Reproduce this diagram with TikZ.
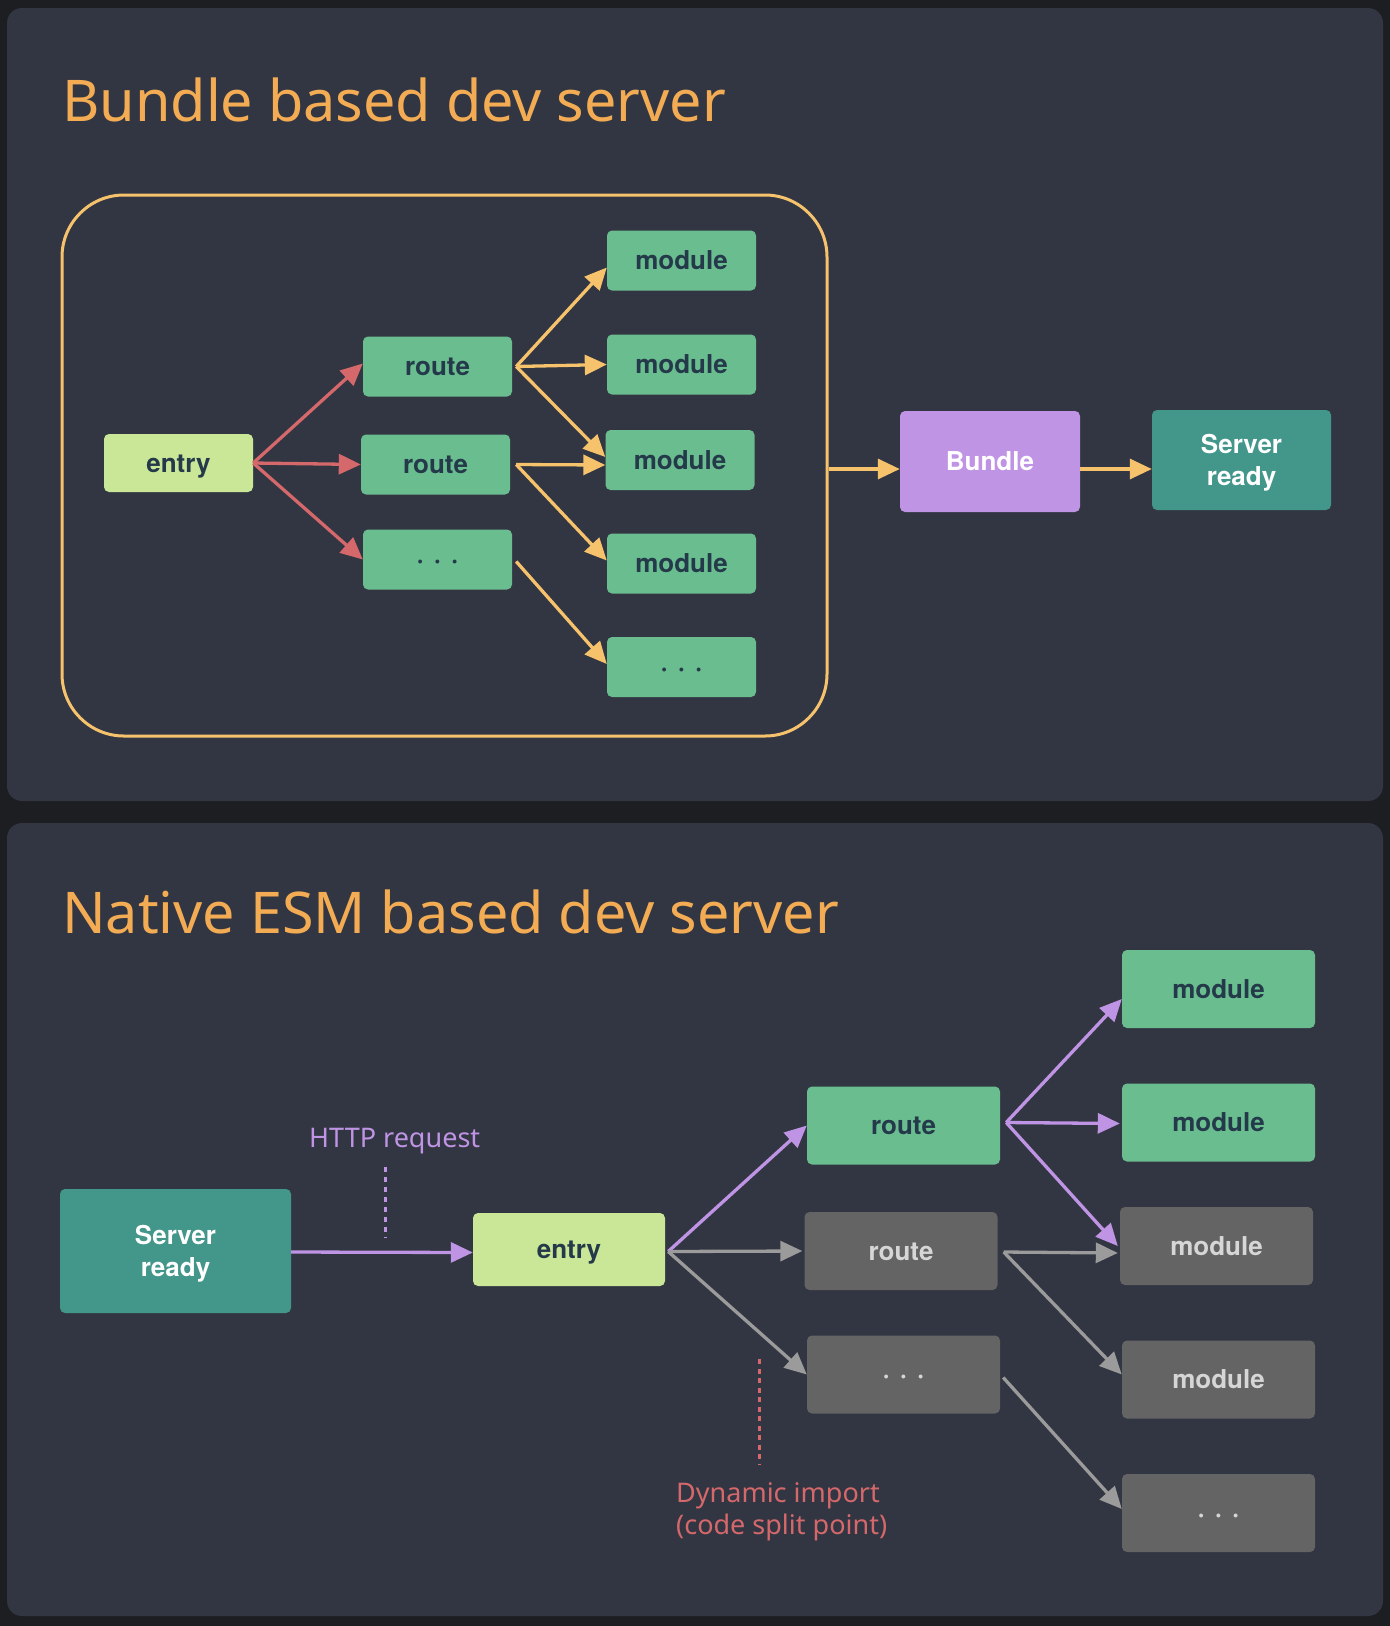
\documentclass[tikz,border=0pt]{standalone}
\usepackage{fontspec}
\setmainfont{Noto Sans}
\newfontfamily\boxfont{TeX Gyre Heros}
\usetikzlibrary{arrows.meta}

\definecolor{pagebg}{HTML}{1D1E21}
\definecolor{panelbg}{HTML}{323642}
\definecolor{titlecol}{HTML}{F3AC53}
\definecolor{outlinecol}{HTML}{F6C36C}
\definecolor{redcol}{HTML}{D4686B}
\definecolor{purplecol}{HTML}{BF94E4}
\definecolor{greencol}{HTML}{6ABD8F}
\definecolor{limecol}{HTML}{CAE797}
\definecolor{tealcol}{HTML}{42968A}
\definecolor{greycol}{HTML}{646464}
\definecolor{greytext}{HTML}{D6D6D6}
\definecolor{greyline}{HTML}{9B9B9B}
\definecolor{darktext}{HTML}{24394A}

\tikzset{
  box/.style={rectangle, rounded corners=5pt, inner sep=0pt, align=center,
    text height=18pt, text depth=0pt,
    font=\boxfont\fontsize{26}{32}\selectfont\bfseries},
  twolines/.style={text height=50pt},
  gbox/.style={box, fill=greencol, text=darktext},
  lbox/.style={box, fill=limecol, text=darktext},
  pbox/.style={box, fill=purplecol, text=white},
  tbox/.style={box, fill=tealcol, text=white},
  xbox/.style={box, fill=greycol, text=greytext},
  small/.style={minimum width=149pt, minimum height=60pt},
  wide/.style={minimum width=193pt, minimum height=78pt},
  link/.style={line width=3.3pt, -{Triangle[length=22pt,width=20pt]}},
  redlink/.style={link, draw=redcol, fill=redcol},
  orlink/.style={link, draw=outlinecol, fill=outlinecol},
  purlink/.style={link, draw=purplecol, fill=purplecol},
  greylink/.style={link, draw=greyline, fill=greyline},
  heading/.style={anchor=base west, inner sep=0pt, text=titlecol,
    font=\fontsize{57.5}{68}\selectfont},
  note/.style={anchor=base west, inner sep=0pt, align=left,
    font=\fontsize{27}{31.5}\selectfont},
}
\newcommand{\threedots}{·\kern10pt·\kern10pt·}

\begin{document}
\begin{tikzpicture}[x=1pt,y=-1pt]
  \useasboundingbox (0,0) rectangle (1390,1626);
  \fill[pagebg] (0,0) rectangle (1390,1626);
  \fill[panelbg, rounded corners=15pt] (7,8) rectangle (1383,801);
  \fill[panelbg, rounded corners=15pt] (7,823) rectangle (1383,1616);

  % ---------- bundle based dev server ----------
  \node[heading] (t1) at (62,121) {Bundle based dev server};

  \node[draw=outlinecol, line width=3pt, rounded corners=62pt,
        minimum width=765pt, minimum height=541pt] (area) at (444.5,465.5) {};

  \node[lbox, small, minimum height=58pt] (e1) at (178.5,463) {entry};
  \node[gbox, small] (r1) at (437.5,366.5) {route};
  \node[gbox, small] (r2) at (435.5,464.5) {route};
  \node[gbox, small] (r3) at (437.5,559.5) {\threedots};
  \node[gbox, small] (m1) at (681.5,260.5) {module};
  \node[gbox, small] (m2) at (681.5,364.5) {module};
  \node[gbox, small] (m3) at (680,460) {module};
  \node[gbox, small] (m4) at (681.5,563.5) {module};
  \node[gbox, small] (m5) at (681.5,667) {\threedots};
  \node[pbox, minimum width=180pt, minimum height=101pt] (bdl) at (990,461.5) {Bundle};
  \node[tbox, twolines, minimum width=179pt, minimum height=100pt] (sr1) at (1241.5,460) {Server\\ready};

  \draw[redlink] (e1.east) -- ([yshift=3pt]r1.west);
  \draw[redlink] (e1.east) -- (r2.west);
  \draw[redlink] (e1.east) -- (r3.west);

  \draw[orlink] ([xshift=4pt]r1.east) -- ([yshift=-7pt]m1.west);
  \draw[orlink] ([xshift=4pt]r1.east) -- (m2.west);
  \draw[orlink] ([xshift=4pt]r1.east) -- ([yshift=3pt]m3.west);
  \draw[orlink] ([xshift=6pt]r2.east) -- ([yshift=-5pt]m3.west);
  \draw[orlink] ([xshift=6pt]r2.east) -- ([yshift=3pt]m4.west);
  \draw[orlink] ([xshift=4pt,yshift=-2pt]r3.east) -- ([yshift=3pt]m5.west);

  \draw[orlink] ([yshift=-3.5pt]area.east) -- ([yshift=-7.5pt]bdl.west);
  \draw[orlink] ([yshift=-7.5pt]bdl.east) -- ([yshift=-9pt]sr1.west);

  % ---------- native ESM based dev server ----------
  \node[heading] (t2) at (62,933) {Native ESM based dev server};

  \node[tbox, twolines, minimum width=231pt, minimum height=124pt] (sr2) at (175.5,1251) {Server\\ready};
  \node[lbox, minimum width=192pt, minimum height=73pt] (e2) at (569,1249.5) {entry};
  \node[gbox, wide] (q1) at (903.5,1125.5) {route};
  \node[xbox, wide] (q2) at (901,1251) {route};
  \node[xbox, wide] (q3) at (903.5,1374.5) {\threedots};
  \node[gbox, wide] (n1) at (1218.5,989) {module};
  \node[gbox, wide] (n2) at (1218.5,1122.5) {module};
  \node[xbox, wide] (n3) at (1216.5,1246) {module};
  \node[xbox, wide] (n4) at (1218.5,1379.5) {module};
  \node[xbox, wide] (n5) at (1218.5,1513) {\threedots};

  \draw[purlink] ([yshift=-1pt]sr2.east) -- ([yshift=-3pt]e2.west);
  \draw[purlink] ([xshift=3pt,yshift=-2pt]e2.east) -- (q1.west);
  \draw[greylink] ([xshift=3pt,yshift=-2pt]e2.east) -- ([xshift=-2pt]q2.west);
  \draw[greylink] ([xshift=3pt,yshift=-2pt]e2.east) -- (q3.west);

  \draw[purlink] ([xshift=6pt,yshift=3pt]q1.east) -- ([yshift=-10pt]n1.west);
  \draw[purlink] ([xshift=6pt,yshift=3pt]q1.east) -- ([xshift=-2pt,yshift=-1pt]n2.west);
  \draw[purlink] ([xshift=6pt,yshift=3pt]q1.east) -- ([xshift=-2pt]n3.west);
  \draw[greylink] ([xshift=6pt,yshift=-1pt]q2.east) -- ([xshift=-2pt,yshift=-7pt]n3.west);
  \draw[greylink] ([xshift=6pt,yshift=-1pt]q2.east) -- ([yshift=5pt]n4.west);
  \draw[greylink] ([xshift=3pt,yshift=-3pt]q3.east) -- ([yshift=4pt]n5.west);

  % annotations
  \node[note, text=purplecol] (http) at (309,1147) {HTTP request};
  \coordinate (httptop) at (385,1167);
  \coordinate (httpbot) at (385,1238);
  \draw[purplecol, line width=3pt, dash pattern=on 5pt off 5pt] (httptop) -- (httpbot);

  \node[note, text=redcol] (dyn) at (676,1534) {Dynamic import\\(code split point)};
  \coordinate (dyntop) at (759,1359);
  \coordinate (dynbot) at (759,1465);
  \draw[redcol, line width=3pt, dash pattern=on 5pt off 4.5pt] (dyntop) -- (dynbot);
\end{tikzpicture}
\end{document}
